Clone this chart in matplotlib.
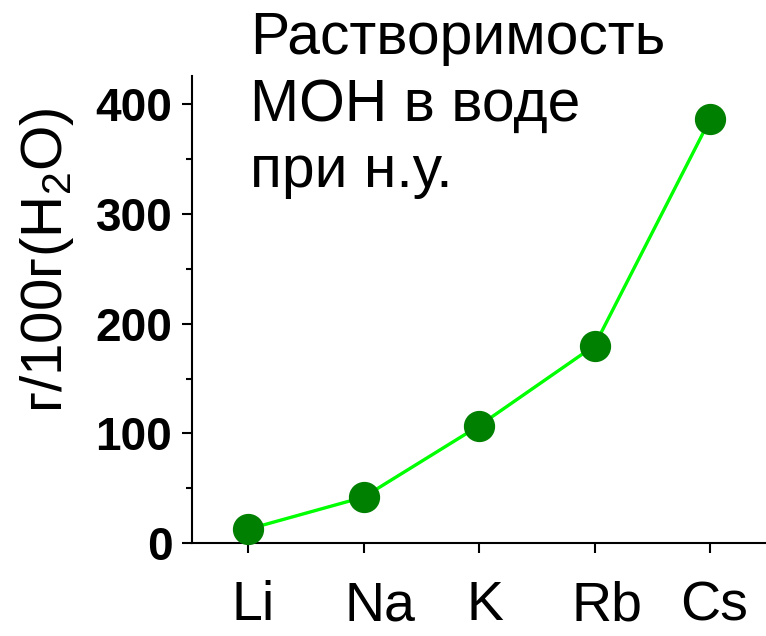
import matplotlib
matplotlib.use("Agg")
import matplotlib.pyplot as plt
from matplotlib.ticker import MultipleLocator
from matplotlib.transforms import ScaledTranslation

plt.rcParams['font.family'] = ['Liberation Sans', 'DejaVu Sans']
plt.rcParams['mathtext.fontset'] = 'custom'
plt.rcParams['mathtext.rm'] = 'Liberation Sans'
plt.rcParams['mathtext.it'] = 'Liberation Sans:italic'
plt.rcParams['mathtext.bf'] = 'Liberation Sans:bold'

elements = ['Li', 'Na', 'K', 'Rb', 'Cs']
solubility = [12.8, 42, 107, 180, 386]
y_ticks = [0, 100, 200, 300, 400]

fig = plt.figure(figsize=(7.66, 6.36), dpi=100)
ax = fig.add_axes([0.2507, 0.1458, 0.7493, 0.7347])

x = list(range(len(elements)))
ax.plot(x, solubility, color='#00FF00', lw=2.4, zorder=2, clip_on=False)
ax.plot(x, solubility, ls='none', marker='o', ms=21.5, color='#008000',
        zorder=3, clip_on=False)

ax.set_xlim(-0.485, 4.485)
ax.set_ylim(0, 425.6)
ax.set_xticks(x)
ax.set_xticklabels(elements)
ax.set_yticks(y_ticks)
ax.yaxis.set_minor_locator(MultipleLocator(50))

for s in ['top', 'right']:
    ax.spines[s].set_visible(False)
for s in ['left', 'bottom']:
    ax.spines[s].set_linewidth(1.5)

ax.tick_params(axis='y', which='major', length=7.2, width=1.5, pad=7, labelsize=33)
ax.tick_params(axis='y', which='minor', length=4.5, width=1.5)
ax.tick_params(axis='x', which='major', length=7.2, width=1.5, pad=19.5, labelsize=40)
for lbl in ax.get_yticklabels():
    lbl.set_fontweight('bold')

# the category labels in the original sit slightly right of their ticks
label_shift_px = [5, 16, 6, 12, 4]
for lbl, dx in zip(ax.get_xticklabels(), label_shift_px):
    lbl.set_transform(lbl.get_transform() +
                      ScaledTranslation(dx / 100, 0, fig.dpi_scale_trans))

ax.set_ylabel(r'г/100г(H$\mathregular{_2}$O)', fontsize=42, va='center')
ax.yaxis.set_label_coords(-0.253, 0.606)

fig.text(250 / 766, 1 - 11 / 636, 'Растворимость\nМОН в воде\nпри н.у.',
         fontsize=42.3, ha='left', va='top', linespacing=1.27)

fig.savefig('out.png', dpi=100)
